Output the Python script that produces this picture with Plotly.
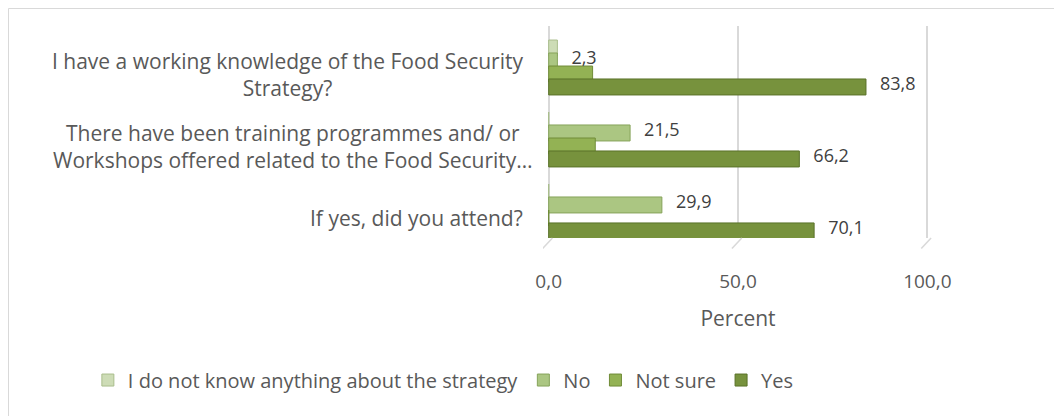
import plotly.graph_objects as go

categories = [
    "I have a working knowledge of the Food Security<br>Strategy?",
    "There have been training programmes and/ or<br>Workshops offered related to the Food Security…",
    "If yes, did you attend?",
]
series_names = ["I do not know anything about the strategy", "No", "Not sure", "Yes"]
dont_know = [2.3, 0.0, 0.0]
no_vals = [2.3, 21.5, 29.9]
not_sure = [11.6, 12.3, 0.0]
yes_vals = [83.8, 66.2, 70.1]
tick_vals = [0, 50, 100]

series_values = [dont_know, no_vals, not_sure, yes_vals]
colors = ["#cddcb6", "#abc682", "#93b254", "#77923d"]
edge_colors = ["#a9bd8c", "#86a35a", "#708c38", "#5a7229"]
show_labels = [False, True, False, True]
offsets = [-0.472, -0.292, -0.111, 0.069]
bar_w = 0.222
label_x = [-0.046, -0.02, -0.046]

FONT = "Open Sans"
GREY = "#595959"
idx = list(range(len(categories)))
fig = go.Figure()
for name, vals, col, ecol, off in zip(series_names, series_values, colors, edge_colors, offsets):
    fig.add_trace(go.Bar(
        y=idx, x=vals, name=name, orientation="h",
        marker=dict(color=col, line=dict(color=ecol, width=1)),
        offset=off, width=bar_w, textposition="none",
    ))

# data labels drawn on top of all bars
for vals, lab, off in zip(series_values, show_labels, offsets):
    if not lab:
        continue
    fig.add_trace(go.Scatter(
        x=vals, y=[i + off + bar_w / 2 - 0.02 for i in idx], mode="text",
        text=["\u00a0\u00a0\u00a0" + f"{v:.1f}".replace(".", ",") for v in vals],
        textposition="middle right", showlegend=False, hoverinfo="skip",
        textfont=dict(family=FONT, size=18, color="#404040"), cliponaxis=False,
    ))

for i, c in enumerate(categories):
    fig.add_annotation(x=label_x[i], xref="paper", y=i, yref="y", text=c, showarrow=False,
                       xanchor="right", yanchor="middle", align="center",
                       font=dict(family=FONT, size=21, color=GREY))

# floor diagonals (3D base)
for v in tick_vals:
    fig.add_shape(type="line", xref="x", yref="paper", x0=v + 1.0, y0=0.0, x1=v - 1.6, y1=-0.05,
                  line=dict(color="#d9d9d9", width=1.5))
# chart border
fig.add_shape(type="rect", xref="paper", yref="paper", x0=-1.3705, x1=1.6, y0=-1.2, y1=1.0825,
              line=dict(color="#d9d9d9", width=1), layer="below")

fig.update_layout(
    width=1062, height=416,
    margin=dict(l=535, r=137, t=18, b=186),
    paper_bgcolor="white", plot_bgcolor="white",
    separators=", ",
    barmode="overlay",
    showlegend=True,
    legend=dict(orientation="h", x=-1.167, xanchor="left", y=-0.67, yanchor="middle",
                font=dict(family=FONT, size=20, color=GREY), traceorder="normal"),
    xaxis=dict(range=[-1.5, 101.5], tickvals=tick_vals, tickformat=".1f",
               showgrid=True, gridcolor="#d9d9d9", gridwidth=1.5, zeroline=False,
               showline=False, ticks="", ticklabelstandoff=30,
               tickfont=dict(family=FONT, size=19, color=GREY),
               title=dict(text="Percent", font=dict(family=FONT, size=21, color=GREY), standoff=18)),
    yaxis=dict(range=[2.278, -0.667], showticklabels=False, showgrid=False, zeroline=False,
               showline=False, ticks=""),
)
fig.write_html("out.html")
